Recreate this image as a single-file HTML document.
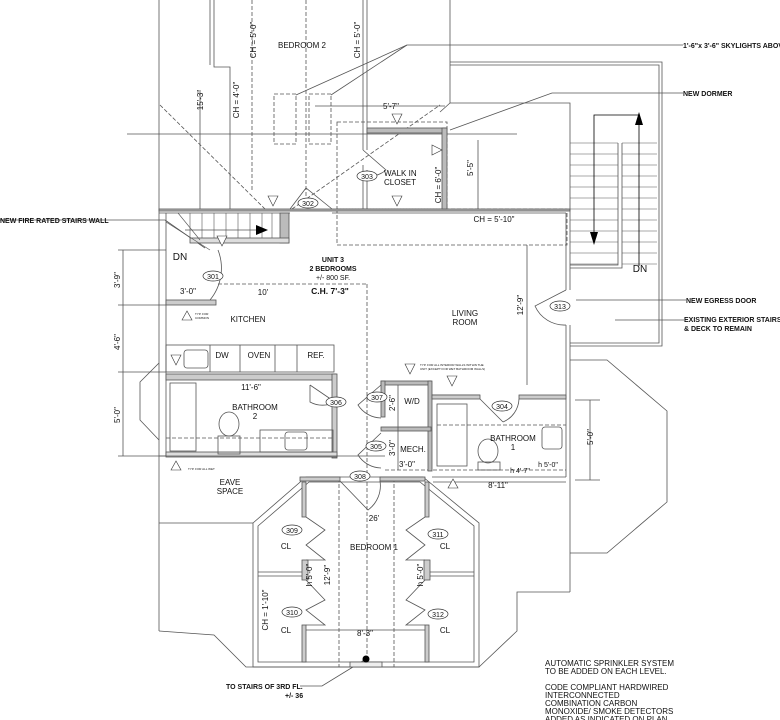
<!DOCTYPE html>
<html><head><meta charset="utf-8"><style>
html,body{margin:0;padding:0;background:#fff;}
svg{display:block;}
text{font-family:"Liberation Sans",sans-serif;fill:#111;}
.t{font-size:8px;}
.b{font-size:7px;font-weight:bold;}
.s{font-size:3px;}
</style></head><body>
<svg width="780" height="720" viewBox="0 0 780 720" xmlns="http://www.w3.org/2000/svg">
<g fill="none" stroke="#555" stroke-width="0.8">
<!-- top region lines -->
<line x1="159" y1="0" x2="159" y2="631"/>
<polyline points="214,0 214,67 230,67 230,209"/>
<polyline points="210,0 210,65"/>
<line x1="200" y1="90" x2="200" y2="209"/>
<line x1="363" y1="0" x2="363" y2="150"/><line x1="367" y1="0" x2="367" y2="150"/>
<line x1="363" y1="165" x2="363" y2="209"/><line x1="367" y1="170" x2="367" y2="209"/>
<polyline points="450,0 450,103 440,112"/>
<line x1="127" y1="134" x2="517" y2="134"/>
<polyline points="450,62 662,62 662,346 570,346"/>
<polyline points="450,65 659,65 659,343 570,343"/>
<polyline points="450,103 570,103 570,209"/>
<!-- skylights -->
<g stroke-dasharray="4,2">
<rect x="274" y="94" width="22" height="50"/><rect x="309" y="94" width="22" height="50"/>
<line x1="252" y1="0" x2="252" y2="190"/><line x1="306" y1="0" x2="306" y2="209"/>
<line x1="160" y1="105" x2="265" y2="209"/>
<line x1="292" y1="209" x2="440" y2="105"/>
<rect x="337" y="122" width="110" height="87"/>
<rect x="337" y="209" width="230" height="36"/>
<line x1="367" y1="284" x2="367" y2="667"/>
<line x1="218" y1="284" x2="367" y2="284"/>
<line x1="339" y1="478" x2="339" y2="667"/>
<line x1="394" y1="478" x2="394" y2="667"/>
<line x1="166" y1="438" x2="335" y2="438"/>
<line x1="437" y1="425" x2="566" y2="425"/>
<line x1="385" y1="470" x2="566" y2="470"/>
</g>
<!-- callout lines -->
<line x1="407" y1="45" x2="683" y2="45"/>
<line x1="407" y1="45" x2="296" y2="95"/><line x1="407" y1="45" x2="331" y2="95"/>
<polyline points="450,130 552,93 683,93"/>
<line x1="0" y1="220" x2="165" y2="220"/><line x1="165" y1="220" x2="205" y2="248"/>
<line x1="576" y1="300" x2="686" y2="300"/>
<line x1="615" y1="320" x2="684" y2="320"/>
<polyline points="366,659 322,686 300,686"/>
<!-- main unit walls -->
<rect x="159" y="209" width="411" height="2" fill="#bbb"/>
<line x1="159" y1="213" x2="290" y2="213"/>
<line x1="332" y1="213" x2="566" y2="213"/>
<line x1="566" y1="213" x2="566" y2="290"/><line x1="570" y1="209" x2="570" y2="290"/>
<line x1="566" y1="325" x2="566" y2="477"/><line x1="570" y1="325" x2="570" y2="592"/>
<line x1="166" y1="213" x2="166" y2="456"/>
<!-- interior stair -->
<rect x="280" y="213" width="9" height="30" fill="#bbb"/>
<rect x="190" y="238" width="99" height="5" fill="#ddd"/>
<g stroke-width="0.6">
<line x1="190" y1="213" x2="190" y2="238"/><line x1="202" y1="213" x2="202" y2="238"/><line x1="214" y1="213" x2="214" y2="238"/><line x1="226" y1="213" x2="226" y2="238"/><line x1="238" y1="213" x2="238" y2="238"/><line x1="250" y1="213" x2="250" y2="238"/><line x1="262" y1="213" x2="262" y2="238"/><line x1="272" y1="213" x2="272" y2="238"/>
<line x1="166" y1="222" x2="210" y2="250"/><line x1="178" y1="213" x2="200" y2="240"/>
</g>
<line x1="185" y1="230" x2="262" y2="230"/>
<!-- door 301 -->
<path d="M218,250 A50,50 0 0 1 210,300"/>
<rect x="166" y="300" width="50" height="5" fill="#ccc"/>
<!-- kitchen counter -->
<rect x="166" y="345" width="168" height="27"/>
<line x1="210" y1="345" x2="210" y2="372"/><line x1="240" y1="345" x2="240" y2="372"/><line x1="275" y1="345" x2="275" y2="372"/><line x1="297" y1="345" x2="297" y2="372"/>
<rect x="184" y="350" width="24" height="18" rx="3"/>
<rect x="166" y="374" width="170" height="6" fill="#ccc"/>
<rect x="332" y="374" width="5" height="84" fill="#ccc"/>
<rect x="166" y="452" width="171" height="5" fill="#ddd"/>
<rect x="170" y="383" width="26" height="68"/>
<ellipse cx="229" cy="424" rx="10" ry="12"/><rect x="218" y="436" width="22" height="18"/>
<rect x="260" y="430" width="73" height="22"/><rect x="285" y="432" width="22" height="18" rx="3"/>
<line x1="310" y1="385" x2="335" y2="402"/><path d="M310,385 L310,402 A26,26 0 0 0 335,402"/>
<!-- left bay -->
<polyline points="159,363 140,382 140,420 159,440"/>
<line x1="123" y1="250" x2="123" y2="456"/>
<line x1="118" y1="250" x2="166" y2="250"/><line x1="118" y1="305" x2="166" y2="305"/><line x1="118" y1="372" x2="166" y2="372"/><line x1="118" y1="456" x2="166" y2="456"/>
<line x1="159" y1="456" x2="337" y2="456"/>
<!-- W/D & MECH -->
<rect x="381" y="381" width="50" height="4" fill="#bbb"/>
<rect x="428" y="381" width="4" height="90" fill="#bbb"/>
<rect x="381" y="381" width="4" height="36" fill="#bbb"/>
<rect x="381" y="427" width="50" height="4" fill="#bbb"/>
<line x1="398" y1="385" x2="398" y2="470"/>
<path d="M381,385 L358,405 A28,28 0 0 0 381,418"/>
<path d="M381,433 L358,455 A28,28 0 0 0 381,468"/>
<!-- bathroom 1 -->
<line x1="432" y1="395" x2="480" y2="395"/><rect x="432" y="395" width="48" height="4" fill="#ccc"/>
<rect x="519" y="395" width="47" height="4" fill="#ccc"/>
<rect x="437" y="404" width="30" height="62"/>
<ellipse cx="488" cy="451" rx="10" ry="12"/><rect x="478" y="462" width="22" height="8"/>
<rect x="542" y="427" width="20" height="22" rx="3"/>
<line x1="480" y1="399" x2="503" y2="422"/><path d="M503,422 A26,26 0 0 0 519,399"/>
<line x1="432" y1="477" x2="566" y2="477"/>
<line x1="590" y1="400" x2="590" y2="480"/>
<line x1="575" y1="400" x2="600" y2="400"/><line x1="575" y1="480" x2="600" y2="480"/>
<line x1="433" y1="482" x2="566" y2="482"/>
<line x1="337" y1="456" x2="385" y2="456"/>
<!-- egress door 313 -->
<path d="M566,290 L535,306 A32,32 0 0 0 566,325"/>
<line x1="527" y1="245" x2="527" y2="385"/>
<!-- door 302, 303 -->
<path d="M290,209 L306,188 L332,209"/>
<path d="M363,150 L386,170 A24,24 0 0 1 363,175"/>
<rect x="367" y="128" width="80" height="5" fill="#bbb"/>
<rect x="442" y="128" width="5" height="81" fill="#bbb"/>
<line x1="478" y1="140" x2="478" y2="209"/>
<line x1="315" y1="106" x2="445" y2="106"/>
<!-- exterior stairs -->
<g stroke-width="0.6">
<line x1="570" y1="143" x2="618" y2="143"/><line x1="570" y1="154" x2="618" y2="154"/><line x1="570" y1="165" x2="618" y2="165"/><line x1="570" y1="176" x2="618" y2="176"/><line x1="570" y1="187" x2="618" y2="187"/><line x1="570" y1="198" x2="618" y2="198"/><line x1="570" y1="209" x2="618" y2="209"/><line x1="570" y1="220" x2="618" y2="220"/><line x1="570" y1="231" x2="618" y2="231"/><line x1="570" y1="242" x2="618" y2="242"/><line x1="570" y1="253" x2="618" y2="253"/><line x1="570" y1="264" x2="618" y2="264"/>
<line x1="622" y1="143" x2="657" y2="143"/><line x1="622" y1="154" x2="657" y2="154"/><line x1="622" y1="165" x2="657" y2="165"/><line x1="622" y1="176" x2="657" y2="176"/><line x1="622" y1="187" x2="657" y2="187"/><line x1="622" y1="198" x2="657" y2="198"/><line x1="622" y1="209" x2="657" y2="209"/><line x1="622" y1="220" x2="657" y2="220"/><line x1="622" y1="231" x2="657" y2="231"/><line x1="622" y1="242" x2="657" y2="242"/><line x1="622" y1="253" x2="657" y2="253"/><line x1="622" y1="264" x2="657" y2="264"/>
</g>
<polyline points="570,268 622,268 622,143"/><polyline points="570,265 618,265 618,143"/>
<polyline stroke="#000" points="594,240 594,115 639,115 639,266"/>
<!-- right bay -->
<polyline points="570,360 607,360 667,411 667,502 607,553 570,553"/>
<!-- lower outline -->
<line x1="159" y1="523" x2="253" y2="523"/>
<polyline points="159,631 214,635 246,667 479,667 517,631 517,592 570,592"/>
<!-- bedroom 1 -->
<polygon points="253,523 306,477 423,477 479,523 479,667 253,667"/>
<polygon points="258,526 309,482 420,482 474,526 474,662 258,662"/>
<rect x="300" y="477" width="40" height="4" fill="#ccc"/><rect x="380" y="477" width="45" height="4" fill="#ccc"/>
<path d="M340,481 L368,510 A30,30 0 0 0 380,481"/>
<rect x="302" y="482" width="4" height="35" fill="#ccc"/><rect x="302" y="560" width="6" height="20" fill="#ccc"/><rect x="302" y="625" width="4" height="37" fill="#ccc"/>
<rect x="425" y="482" width="4" height="35" fill="#ccc"/><rect x="424" y="560" width="6" height="20" fill="#ccc"/><rect x="425" y="625" width="4" height="37" fill="#ccc"/>
<line x1="258" y1="572" x2="302" y2="572"/><line x1="258" y1="576" x2="302" y2="576"/>
<line x1="430" y1="572" x2="474" y2="572"/><line x1="430" y1="576" x2="474" y2="576"/>
<polyline points="306,517 325,530 306,545 325,560 306,560"/>
<polyline points="306,580 325,600 306,610 325,625 306,625"/>
<polyline points="425,517 406,530 425,545 406,560 425,560"/>
<polyline points="425,580 406,600 425,610 406,625 425,625"/>
<line x1="306" y1="630" x2="425" y2="630"/>
<rect x="350" y="662" width="32" height="5" fill="#eee"/>
</g>
<polygon points="594,245 590,232 598,232" fill="#000"/>
<polygon points="639,112 635,125 643,125" fill="#000"/>
<polygon points="268,230 256,225 256,235" fill="#000"/>
<circle cx="366" cy="659" r="3.5" fill="#000"/>
<!-- ellipse tags -->
<g fill="#fff" stroke="#333" stroke-width="0.7">
<ellipse cx="213" cy="276" rx="10" ry="5"/><ellipse cx="308" cy="203" rx="10" ry="5"/><ellipse cx="367" cy="176" rx="10" ry="5"/>
<ellipse cx="336" cy="402" rx="10" ry="5"/><ellipse cx="377" cy="397" rx="10" ry="5"/><ellipse cx="376" cy="446" rx="10" ry="5"/>
<ellipse cx="360" cy="476" rx="10" ry="5"/><ellipse cx="502" cy="406" rx="10" ry="5"/><ellipse cx="560" cy="306" rx="10" ry="5"/>
<ellipse cx="292" cy="530" rx="10" ry="5"/><ellipse cx="438" cy="534" rx="10" ry="5"/><ellipse cx="292" cy="612" rx="10" ry="5"/><ellipse cx="438" cy="614" rx="10" ry="5"/>
</g>
<g class="t" font-size="7">
<text x="213" y="279" text-anchor="middle" font-size="7">301</text><text x="308" y="206" text-anchor="middle" font-size="7">302</text><text x="367" y="179" text-anchor="middle" font-size="7">303</text>
<text x="336" y="405" text-anchor="middle" font-size="7">306</text><text x="377" y="400" text-anchor="middle" font-size="7">307</text><text x="376" y="449" text-anchor="middle" font-size="7">305</text>
<text x="360" y="479" text-anchor="middle" font-size="7">308</text><text x="502" y="409" text-anchor="middle" font-size="7">304</text><text x="560" y="309" text-anchor="middle" font-size="7">313</text>
<text x="292" y="533" text-anchor="middle" font-size="7">309</text><text x="438" y="537" text-anchor="middle" font-size="7">311</text><text x="292" y="615" text-anchor="middle" font-size="7">310</text><text x="438" y="617" text-anchor="middle" font-size="7">312</text>
</g>
<g class="t">
<text x="302" y="48" text-anchor="middle">BEDROOM 2</text>
<text x="333" y="262" text-anchor="middle" class="b">UNIT 3</text>
<text x="333" y="271" text-anchor="middle" class="b">2 BEDROOMS</text>
<text x="333" y="280" text-anchor="middle" font-size="7">+/- 800 SF.</text>
<text x="330" y="294" text-anchor="middle" font-weight="bold" font-size="8.5">C.H. 7'-3"</text>
<text x="465" y="316" text-anchor="middle">LIVING</text><text x="465" y="325" text-anchor="middle">ROOM</text>
<text x="248" y="322" text-anchor="middle">KITCHEN</text>
<text x="222" y="358" text-anchor="middle">DW</text><text x="259" y="358" text-anchor="middle">OVEN</text><text x="316" y="358" text-anchor="middle">REF.</text>
<text x="251" y="390" text-anchor="middle">11'-6"</text>
<text x="255" y="410" text-anchor="middle">BATHROOM</text><text x="255" y="419" text-anchor="middle">2</text>
<text x="412" y="404" text-anchor="middle">W/D</text><text x="413" y="452" text-anchor="middle">MECH.</text><text x="407" y="467" text-anchor="middle">3'-0"</text>
<text x="513" y="441" text-anchor="middle">BATHROOM</text><text x="513" y="450" text-anchor="middle">1</text>
<text x="520" y="473" text-anchor="middle" font-size="7">h 4'-7"</text><text x="548" y="467" text-anchor="middle" font-size="7">h 5'-0"</text>
<text x="498" y="488" text-anchor="middle">8'-11"</text>
<text x="494" y="222" text-anchor="middle">CH = 5'-10"</text>
<text x="188" y="294" text-anchor="middle">3'-0"</text><text x="263" y="295" text-anchor="middle">10'</text>
<text x="180" y="260" text-anchor="middle" font-size="10">DN</text>
<text x="640" y="272" text-anchor="middle" font-size="10">DN</text>
<text x="384" y="176">WALK IN</text><text x="384" y="185">CLOSET</text>
<text x="391" y="109" text-anchor="middle">5'-7"</text>
<text x="230" y="485" text-anchor="middle">EAVE</text><text x="230" y="494" text-anchor="middle">SPACE</text>
<text x="286" y="549" text-anchor="middle">CL</text><text x="445" y="549" text-anchor="middle">CL</text>
<text x="286" y="633" text-anchor="middle">CL</text><text x="445" y="633" text-anchor="middle">CL</text>
<text x="374" y="550" text-anchor="middle">BEDROOM 1</text><text x="374" y="521" text-anchor="middle">26'</text>
<text x="365" y="636" text-anchor="middle">8'-3"</text>
</g>
<g class="t">
<text transform="translate(256,40) rotate(-90)" text-anchor="middle">CH = 5'-0"</text>
<text transform="translate(360,40) rotate(-90)" text-anchor="middle">CH = 5'-0"</text>
<text transform="translate(239,100) rotate(-90)" text-anchor="middle">CH = 4'-0"</text>
<text transform="translate(203,100) rotate(-90)" text-anchor="middle">15'-3"</text>
<text transform="translate(441,185) rotate(-90)" text-anchor="middle">CH = 6'-0"</text>
<text transform="translate(473,168) rotate(-90)" text-anchor="middle">5'-5"</text>
<text transform="translate(523,305) rotate(-90)" text-anchor="middle">12'-9"</text>
<text transform="translate(395,403) rotate(-90)" text-anchor="middle">2'-6"</text>
<text transform="translate(395,448) rotate(-90)" text-anchor="middle">3'-0"</text>
<text transform="translate(593,437) rotate(-90)" text-anchor="middle">5'-0"</text>
<text transform="translate(120,280) rotate(-90)" text-anchor="middle">3'-9"</text>
<text transform="translate(120,342) rotate(-90)" text-anchor="middle">4'-6"</text>
<text transform="translate(120,415) rotate(-90)" text-anchor="middle">5'-0"</text>
<text transform="translate(312,575) rotate(-90)" text-anchor="middle">h 5'-0"</text>
<text transform="translate(330,575) rotate(-90)" text-anchor="middle">12'-9"</text>
<text transform="translate(423,575) rotate(-90)" text-anchor="middle">h 5'-0"</text>
<text transform="translate(268,610) rotate(-90)" text-anchor="middle">CH = 1'-10"</text>
</g>
<g class="b">
<text x="0" y="223">NEW FIRE RATED STAIRS WALL</text>
<text x="683" y="48">1'-6"x 3'-6" SKYLIGHTS ABOVE</text>
<text x="683" y="96">NEW DORMER</text>
<text x="686" y="303">NEW EGRESS DOOR</text>
<text x="684" y="322">EXISTING EXTERIOR STAIRS</text>
<text x="684" y="331">&amp; DECK TO REMAIN</text>
<text x="226" y="689">TO STAIRS OF 3RD FL.</text>
<text x="285" y="698">+/- 36</text>
</g>
<g class="t">
<text x="545" y="666">AUTOMATIC SPRINKLER SYSTEM</text>
<text x="545" y="674">TO BE ADDED ON EACH LEVEL.</text>
<text x="545" y="690">CODE COMPLIANT HARDWIRED</text>
<text x="545" y="698">INTERCONNECTED</text>
<text x="545" y="706">COMBINATION CARBON</text>
<text x="545" y="714">MONOXIDE/ SMOKE DETECTORS</text>
<text x="545" y="722">ADDED AS INDICATED ON PLAN</text>
</g>
<g fill="#fff" stroke="#333" stroke-width="0.6">
<polygon points="217,236 227,236 222,246"/><polygon points="268,196 278,196 273,206"/>
<polygon points="392,114 402,114 397,124"/><polygon points="392,196 402,196 397,206"/>
<polygon points="171,355 181,355 176,365"/><polygon points="405,364 415,364 410,374"/>
<polygon points="447,376 457,376 452,386"/><polygon points="182,320 187,311 192,320"/>
<polygon points="171,470 176,461 181,470"/><polygon points="448,488 453,479 458,488"/>
<polygon points="432,145 432,155 442,150"/>
</g>
<g class="s"><text x="195" y="315">TYP. FOR</text><text x="195" y="319">COMMON</text><text x="188" y="470">TYP. FOR ALL WET</text><text x="420" y="366">TYP. FOR ALL INTERIOR WALLS WITHIN THE</text><text x="420" y="370">UNIT (EXCEPT FOR WET BATHROOM WALLS)</text></g>
</svg>
</body></html>
